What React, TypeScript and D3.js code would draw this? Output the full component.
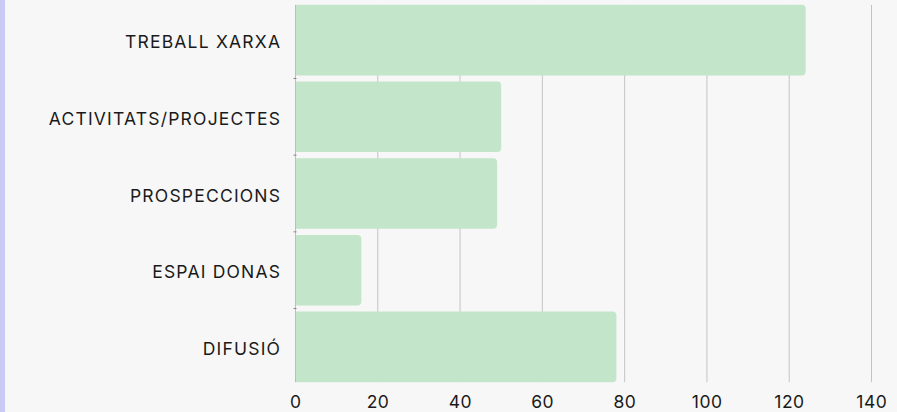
import React from "react";
import * as d3 from "d3";

const categories = ["TREBALL XARXA", "ACTIVITATS/PROJECTES", "PROSPECCIONS", "ESPAI DONAS", "DIFUSIÓ"];
const values = [124, 50, 49, 16, 78];
const xTicks = [0, 20, 40, 60, 80, 100, 120, 140];

const W = 897;
const H = 412;
const FONT = "Inter, 'Noto Sans', sans-serif";

export default function App() {
  const x = d3.scaleLinear().domain([0, 140]).range([295.5, 871.5]);
  const y = d3
    .scaleBand<string>()
    .domain(categories)
    .range([1.8, 385.2])
    .paddingInner(0.08)
    .paddingOuter(0.04);
  const bw = y.bandwidth();
  const top = y(categories[0])!;
  const bottom = y(categories[categories.length - 1])! + bw;
  const r = 4;

  const barPath = (v: number, yy: number) => {
    const x0 = x(0);
    const x1 = x(v);
    const p = d3.path();
    p.moveTo(x0, yy);
    p.lineTo(x1 - r, yy);
    p.arcTo(x1, yy, x1, yy + r, r);
    p.lineTo(x1, yy + bw - r);
    p.arcTo(x1, yy + bw, x1 - r, yy + bw, r);
    p.lineTo(x0, yy + bw);
    p.closePath();
    return p.toString();
  };

  const boundaries = categories.slice(1).map((c) => y(c)! - (y.step() - bw) / 2);

  return (
    <svg
      width={W}
      height={H}
      style={{ position: "absolute", left: 0, top: 0, display: "block" }}
    >
      <rect x={0} y={0} width={W} height={H} fill="#f7f7f7" />
      <rect x={0} y={0} width={5} height={H} fill="#c9c9f3" />
      {xTicks.slice(1).map((t) => (
        <line
          key={t}
          x1={x(t)}
          x2={x(t)}
          y1={top}
          y2={bottom}
          stroke="#c4c4c4"
          strokeWidth={1}
        />
      ))}
      {categories.map((c, i) => (
        <path key={c} d={barPath(values[i], y(c)!)} fill="#c3e6cb" />
      ))}
      <line x1={x(0)} x2={x(0)} y1={top} y2={bottom} stroke="#bdbdbd" strokeWidth={1} />
      {boundaries.map((b, i) => (
        <line key={i} x1={x(0) - 2} x2={x(0) + 1} y1={b} y2={b} stroke="#888" strokeWidth={1} />
      ))}
      {categories.map((c) => (
        <text
          key={c}
          x={281.2}
          y={y(c)! + bw / 2 + 1.5}
          textAnchor="end"
          dominantBaseline="central"
          fontFamily={FONT}
          fontSize={17.5}
          letterSpacing={1.2}
          fill="#1a1a1a"
        >
          {c}
        </text>
      ))}
      {xTicks.map((t) => (
        <text
          key={t}
          x={x(t) + 0.25}
          y={401.5}
          textAnchor="middle"
          dominantBaseline="central"
          fontFamily={FONT}
          fontSize={17.5}
          letterSpacing={0.5}
          fill="#1a1a1a"
        >
          {t}
        </text>
      ))}
    </svg>
  );
}
